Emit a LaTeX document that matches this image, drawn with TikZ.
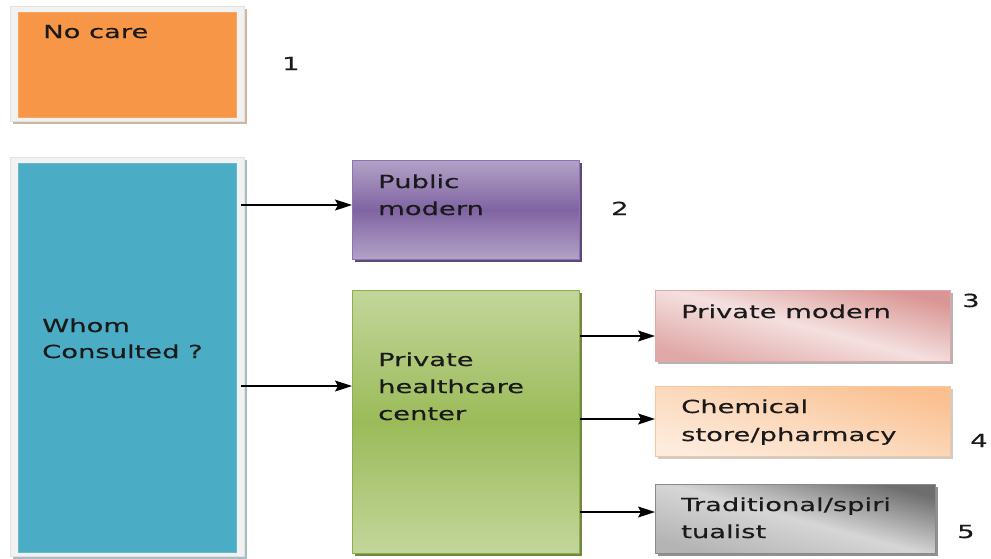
\documentclass[tikz,border=0pt]{standalone}
\usepackage{fontspec}
\setmainfont{DejaVu Sans}[FakeStretch=1.52,FakeBold=0.4]
\usetikzlibrary{arrows.meta,shadows}
\definecolor{txt}{HTML}{1A1A1A}
\definecolor{frameF}{HTML}{F2F2F2}
\definecolor{frameD}{HTML}{E2E2E2}
\definecolor{tanS}{HTML}{D2B79C}
\definecolor{blueS}{HTML}{A8BCC4}
\definecolor{orangeF}{HTML}{F79646}
\definecolor{blueF}{HTML}{4BACC6}
\definecolor{purL}{HTML}{B3A2C7}
\definecolor{purD}{HTML}{8064A2}
\definecolor{purB}{HTML}{8C74AE}
\definecolor{purS}{HTML}{5D4A7A}
\definecolor{grnL}{HTML}{C3D69B}
\definecolor{grnD}{HTML}{9BBB59}
\definecolor{grnB}{HTML}{8DAE4C}
\definecolor{grnS}{HTML}{6E8A3A}
\definecolor{pinkD}{HTML}{D99694}
\definecolor{pinkL}{HTML}{F4E0DF}
\definecolor{pinkB}{HTML}{E0A8A6}
\definecolor{peachD}{HTML}{FAC090}
\definecolor{peachL}{HTML}{FDEBDC}
\definecolor{peachB}{HTML}{F9C59A}
\definecolor{greyD}{HTML}{6E6E6E}
\definecolor{greyL}{HTML}{D6D6D6}
\definecolor{greyM}{HTML}{B4B4B4}
\definecolor{greyB}{HTML}{8A8A8A}
\definecolor{shadowG}{HTML}{B4B4B4}
\begin{document}
\begin{tikzpicture}[x=1pt,y=-1pt,
  box/.style={rectangle, inner sep=0pt, anchor=north west, line width=0.8pt},
  sh/.style={drop shadow={shadow xshift=3pt,shadow yshift=-3pt,fill=#1,opacity=1}},
  lbl/.style={anchor=base west, inner sep=0pt, text=txt, font=\fontsize{18}{22}\selectfont},
  arr/.style={-{Stealth[length=17pt,width=11pt,inset=3pt]}, line width=1.1pt, black}]
\useasboundingbox (0,0) rectangle (991,558);
% frames
\node[box, sh=tanS, fill=frameF, draw=frameD, minimum width=234pt, minimum height=115pt] (frame1) at (10,6) {};
\node[box, fill=orangeF, draw=orangeF!85!white, minimum width=218pt, minimum height=105pt] (nocare) at (18,12) {};
\node[box, sh=blueS, fill=frameF, draw=frameD, minimum width=234pt, minimum height=399pt] (frame2) at (10,157) {};
\node[box, fill=blueF, draw=blueF!85!white, minimum width=218pt, minimum height=389pt] (whom) at (18,163) {};
% boxes
\node[box, sh=purS, top color=purL, bottom color=purL, middle color=purD, draw=purB, minimum width=227pt, minimum height=99pt] (pub) at (352,160) {};
\node[box, sh=grnS, top color=grnL, bottom color=grnL, middle color=grnD, draw=grnB, minimum width=227pt, minimum height=263pt] (phc) at (352,290) {};
\node[box, sh=shadowG, top color=pinkD, bottom color=pinkD!75!pinkL, middle color=pinkL, shading angle=-15, draw=pinkB, minimum width=295pt, minimum height=71pt] (pmod) at (655,290) {};
\node[box, sh=shadowG!70!white, top color=peachD, bottom color=peachL, middle color=peachD!45!peachL, shading angle=-15, draw=peachB, minimum width=295pt, minimum height=70pt] (chem) at (655,386) {};
\node[box, sh=shadowG!80!black, top color=greyD, bottom color=greyM, middle color=greyL, shading angle=-15, draw=greyB, minimum width=280pt, minimum height=69pt] (trad) at (655,484) {};
% arrows
\coordinate (wout) at ([xshift=4pt]whom.east);
\coordinate (y1) at (0,205);
\coordinate (y2) at (0,386);
\coordinate (y3) at (0,336);
\coordinate (y4) at (0,419);
\coordinate (y5) at (0,512);
\draw[arr] (wout |- y1) -- (pub.west |- y1);
\draw[arr] (wout |- y2) -- (phc.west |- y2);
\draw[arr] (phc.east |- y3) -- (pmod.west |- y3);
\draw[arr] (phc.east |- y4) -- (chem.west |- y4);
\draw[arr] (phc.east |- y5) -- (trad.west |- y5);
% labels
\node[lbl] (tnocare) at (43,38) {No care};
\node[lbl] (n1) at (282,70) {1};
\node[lbl] (twhom1) at (42,332) {Whom};
\node[lbl] (twhom2) at (42,358) {Consulted ?};
\node[lbl] (tpub1) at (378,188) {Public};
\node[lbl] (tpub2) at (378,215) {modern};
\node[lbl] (n2) at (611,215) {2};
\node[lbl] (tphc1) at (378,366) {Private};
\node[lbl] (tphc2) at (378,393) {healthcare};
\node[lbl] (tphc3) at (378,420) {center};
\node[lbl] (tpmod) at (681,318) {Private modern};
\node[lbl] (n3) at (962,307) {3};
\node[lbl] (tchem1) at (681,413) {Chemical};
\node[lbl] (tchem2) at (681,441) {store/pharmacy};
\node[lbl] (n4) at (970,447) {4};
\node[lbl] (ttrad1) at (681,511) {Traditional/spiri};
\node[lbl] (ttrad2) at (681,538) {tualist};
\node[lbl] (n5) at (957,538) {5};
\end{tikzpicture}
\end{document}
